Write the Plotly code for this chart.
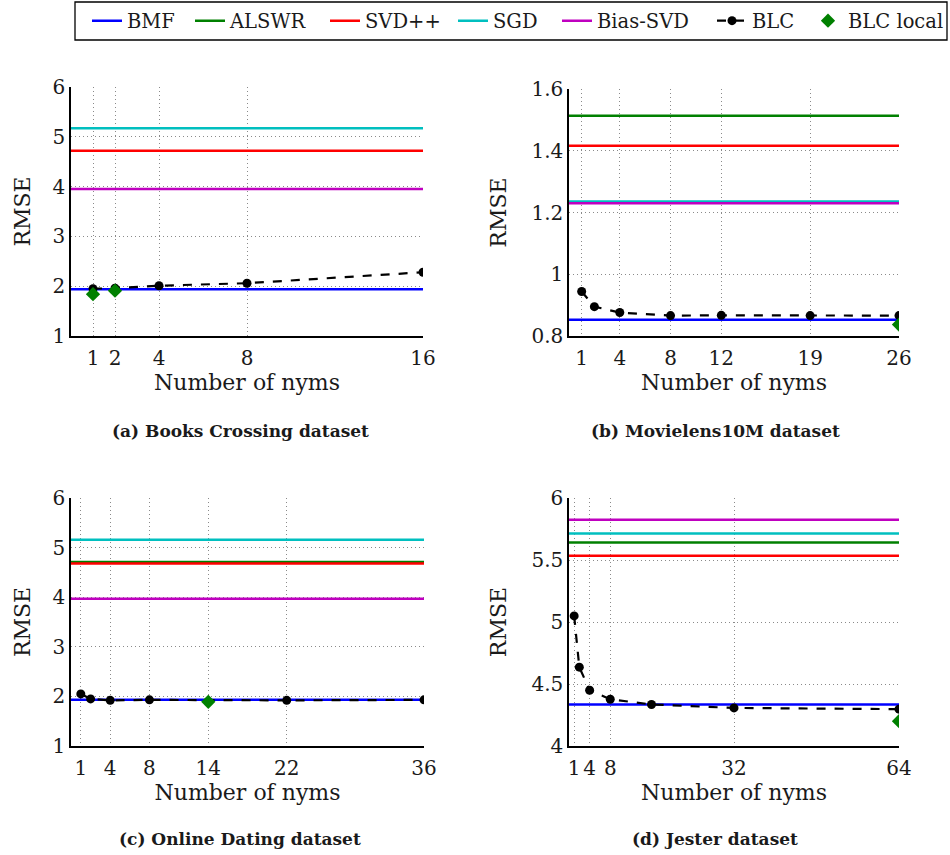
import plotly.graph_objects as go

# ---------------- data ----------------
methods = ["BMF", "ALSWR", "SVD++", "SGD", "Bias-SVD"]
method_colors = ["#0000FF", "#008000", "#FF0000", "#00BFBF", "#BF00BF"]

# baseline RMSE per dataset (None = not shown in panel)
books_base = [1.94, None, 4.72, 5.17, 3.95]
movielens_base = [0.853, 1.513, 1.416, 1.236, 1.230]
dating_base = [1.93, 4.71, 4.68, 5.16, 3.97]
jester_base = [4.335, 5.641, 5.534, 5.714, 5.825]

books_nyms = [1, 2, 4, 8, 16]
books_blc = [1.95, 1.96, 2.01, 2.06, 2.28]
books_local_nyms = [1, 2]
books_local = [1.84, 1.91]

movielens_nyms = [1, 2, 4, 8, 12, 19, 26]
movielens_blc = [0.944, 0.895, 0.876, 0.866, 0.867, 0.866, 0.866]
movielens_local_nyms = [26]
movielens_local = [0.837]

dating_nyms = [1, 2, 4, 8, 22, 36]
dating_blc = [2.05, 1.95, 1.92, 1.93, 1.92, 1.93]
dating_local_nyms = [14]
dating_local = [1.89]

jester_nyms = [1, 2, 4, 8, 16, 32, 64]
jester_blc = [5.049, 4.636, 4.450, 4.377, 4.335, 4.307, 4.297]
jester_local_nyms = [64]
jester_local = [4.20]

books_xticks = [1, 2, 4, 8, 16]
movielens_xticks = [1, 4, 8, 12, 19, 26]
dating_xticks = [1, 4, 8, 14, 22, 36]
jester_xticks = [1, 4, 8, 32, 64]

books_yticks = [1, 2, 3, 4, 5, 6]
movielens_yticks = [0.8, 1.0, 1.2, 1.4, 1.6]
movielens_yticklabels = ["0.8", "1", "1.2", "1.4", "1.6"]
dating_yticks = [1, 2, 3, 4, 5, 6]
jester_yticks = [4, 4.5, 5, 5.5, 6]

captions = ["(a) Books Crossing dataset", "(b) Movielens10M dataset",
            "(c) Online Dating dataset", "(d) Jester dataset"]

legend_names = methods + ["BLC", "BLC local"]

# ---------------- layout geometry ----------------
W, H = 950, 855
FONT = "DejaVu Serif"
TXT = "#1a1a1a"

def px_x(p):
    return p / W

def px_y(p):
    return 1 - p / H

panels = [
    dict(base=books_base, nyms=books_nyms, blc=books_blc, lx=books_local_nyms, ly=books_local,
         xr=[0, 16], yr=[1, 6], xt=books_xticks, yt=books_yticks, ytl=None, ystand=16,
         dom_x=[px_x(71), px_x(423)], dom_y=[px_y(336), px_y(87)]),
    dict(base=movielens_base, nyms=movielens_nyms, blc=movielens_blc, lx=movielens_local_nyms, ly=movielens_local,
         xr=[0, 26], yr=[0.8, 1.6], xt=movielens_xticks, yt=movielens_yticks, ytl=movielens_yticklabels, ystand=19,
         dom_x=[px_x(569), px_x(899)], dom_y=[px_y(336), px_y(89)]),
    dict(base=dating_base, nyms=dating_nyms, blc=dating_blc, lx=dating_local_nyms, ly=dating_local,
         xr=[0, 36], yr=[1, 6], xt=dating_xticks, yt=dating_yticks, ytl=None, ystand=16,
         dom_x=[px_x(71), px_x(424)], dom_y=[px_y(746), px_y(498)]),
    dict(base=jester_base, nyms=jester_nyms, blc=jester_blc, lx=jester_local_nyms, ly=jester_local,
         xr=[0, 64], yr=[4, 6], xt=jester_xticks, yt=jester_yticks, ytl=None, ystand=19,
         dom_x=[px_x(569), px_x(899)], dom_y=[px_y(746), px_y(498)]),
]
caption_pos = [(240, 431), (715, 431), (240, 839), (715, 839)]
# screen x where each legend entry's text starts
legend_text_x = [127, 230, 365, 493, 597, 752, 848]
legend_ids = ["legend"] + [f"legend{k}" for k in range(2, 8)]

fig = go.Figure()
legend_shown = set()

for i, p in enumerate(panels):
    xa = "x" if i == 0 else f"x{i+1}"
    ya = "y" if i == 0 else f"y{i+1}"
    for name, col, val in zip(methods, method_colors, p["base"]):
        if val is None:
            continue
        show = name not in legend_shown
        legend_shown.add(name)
        fig.add_trace(go.Scatter(
            x=p["xr"], y=[val, val], mode="lines", name=name,
            line=dict(color=col, width=2.5), legendgroup=name, showlegend=show,
            legend=legend_ids[legend_names.index(name)], xaxis=xa, yaxis=ya, hoverinfo="skip"))
    fig.add_trace(go.Scatter(
        x=p["nyms"], y=p["blc"], mode="lines+markers", name="BLC",
        line=dict(color="black", width=2.2, dash="dash"),
        marker=dict(color="black", size=9, symbol="circle"),
        legendgroup="BLC", showlegend=(i == 0), legend=legend_ids[5], xaxis=xa, yaxis=ya))
    fig.add_trace(go.Scatter(
        x=p["lx"], y=p["ly"], mode="markers", name="BLC local",
        marker=dict(color="#008000", size=11, symbol="diamond"),
        legendgroup="BLC local", showlegend=(i == 0), legend=legend_ids[6], xaxis=xa, yaxis=ya))

layout = dict(
    width=W, height=H,
    margin=dict(l=0, r=0, t=0, b=0),
    paper_bgcolor="white", plot_bgcolor="white",
    font=dict(family=FONT, size=20, color=TXT),
    showlegend=True,
)
for lid, tx in zip(legend_ids, legend_text_x):
    layout[lid] = dict(orientation="h", x=px_x(tx - 40), y=px_y(21), xanchor="left", yanchor="middle",
                       borderwidth=0, bgcolor="rgba(0,0,0,0)",
                       font=dict(family=FONT, size=19.5, color=TXT), itemwidth=30)

for i, p in enumerate(panels):
    xk = "xaxis" if i == 0 else f"xaxis{i+1}"
    yk = "yaxis" if i == 0 else f"yaxis{i+1}"
    ya = "y" if i == 0 else f"y{i+1}"
    xa = "x" if i == 0 else f"x{i+1}"
    layout[xk] = dict(
        domain=p["dom_x"], anchor=ya, range=p["xr"], tickvals=p["xt"],
        showgrid=True, gridcolor="#8a8a8a", griddash="1px,3px", gridwidth=1,
        showline=True, linecolor="black", linewidth=1.5, zeroline=False,
        ticks="", tickfont=dict(size=20), automargin=False, ticklabelstandoff=3,
        title=dict(text="Number of nyms", font=dict(size=22), standoff=6))
    ydict = dict(
        domain=p["dom_y"], anchor=xa, range=p["yr"], tickvals=p["yt"],
        showgrid=True, gridcolor="#8a8a8a", griddash="1px,3px", gridwidth=1,
        showline=True, linecolor="black", linewidth=1.5, zeroline=False,
        ticks="", tickfont=dict(size=20), automargin=False,
        title=dict(text="RMSE", font=dict(size=22), standoff=p["ystand"]))
    if p["ytl"] is not None:
        ydict["ticktext"] = p["ytl"]
    layout[yk] = ydict

fig.update_layout(**layout)

# legend frame
fig.add_shape(type="rect", xref="paper", yref="paper",
              x0=px_x(75), x1=px_x(947), y0=px_y(40), y1=px_y(2),
              line=dict(color="black", width=1.3), fillcolor="rgba(0,0,0,0)", layer="above")

for text, (cx, cy) in zip(captions, caption_pos):
    fig.add_annotation(text=f"<b>{text}</b>", x=px_x(cx), y=px_y(cy), xref="paper", yref="paper",
                       showarrow=False, font=dict(family=FONT, size=17, color=TXT),
                       xanchor="center", yanchor="middle")

fig.write_html("out.html", config={"displayModeBar": False},
               post_script="document.body.style.margin='0';")
